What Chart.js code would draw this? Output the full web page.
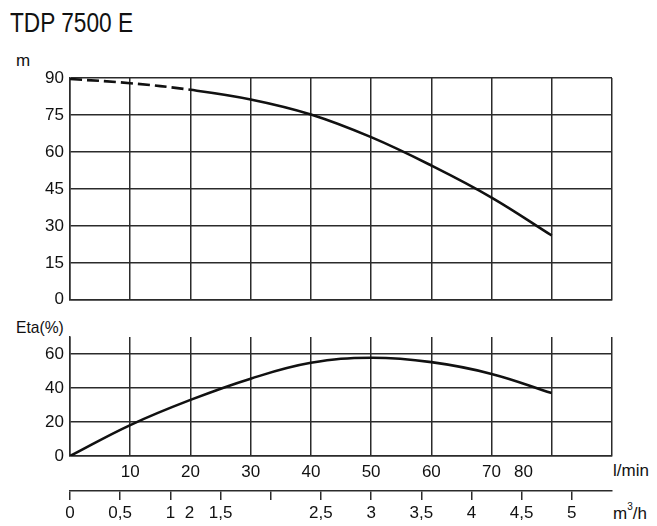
<!DOCTYPE html>
<html>
<head>
<meta charset="utf-8">
<title>TDP 7500 E</title>
<script src="https://cdn.jsdelivr.net/npm/chart.js@4.4.1/dist/chart.umd.min.js"></script>
<style>
  body { margin: 0; background: #fff; }
  #wrap { position: relative; width: 657px; height: 526px; overflow: hidden;
          font-family: "Liberation Sans", Arial, sans-serif; color: #111; }
  canvas { position: absolute; left: 0; }
  .lbl { position: absolute; white-space: nowrap; line-height: 1; transform-origin: left top; }
  .lbl sup { font-size: 10px; position: relative; top: -2px; }
</style>
</head>
<body>
<div id="wrap">
  <div class="lbl" style="left:10px;top:10px;font-size:27px;transform:scaleX(0.84)">TDP 7500 E</div>
  <div class="lbl" style="left:16px;top:52px;font-size:17px">m</div>
  <div class="lbl" style="left:16px;top:319px;font-size:17px;transform:scaleX(0.92)">Eta(%)</div>
  <div class="lbl" style="left:613px;top:462px;font-size:17px">l/min</div>
  <div class="lbl" style="left:613px;top:504px;font-size:17px">m<sup>3</sup>/h</div>
  <canvas id="head" width="657" height="316" style="top:0"></canvas>
  <canvas id="eta" width="657" height="221" style="top:305px"></canvas>
</div>
<script>
// flow in l/min
const flow = [0, 10, 20, 30, 40, 50, 60, 70, 80];
// head in m
const head = [89.6, 87.9, 85.2, 81.3, 75.2, 66.0, 54.5, 41.5, 26.1];
// efficiency in %
const eta = [0, 18.2, 33, 45.5, 54.8, 57.8, 55.2, 48.3, 37];
// head curve is dashed up to this flow
const dashedUpTo = 20;

const headTicks = [0, 15, 30, 45, 60, 75, 90];
const etaLabels = [0, 20, 40, 60];
// l/min labels (the "80" sits left of its grid line in the original)
const flowLabelAt = [10, 20, 30, 40, 50, 60, 70, 75.3];
const flowLabels = ['10', '20', '30', '40', '50', '60', '70', '80'];
// m3/h scale: tick marks and labels
const m3hMarks = [0, 0.5, 1, 1.5, 2, 2.5, 3, 3.5, 4, 4.5, 5];
const m3hLabelAt = [0, 0.5, 1, 1.19, 1.5, 2.5, 3, 3.5, 4, 4.5, 5];
const m3hLabels = ['0', '0,5', '1', '2', '1,5', '2,5', '3', '3,5', '4', '4,5', '5'];

const ink = '#2b2b2b';
const tickFont = { family: 'Liberation Sans', size: 17 };
const grid = { color: ink, lineWidth: 1.5, drawTicks: false };
const border = { color: ink, width: 1.5 };

const base = {
  responsive: false,
  animation: false,
  events: [],
  plugins: { legend: { display: false }, tooltip: { enabled: false } }
};

const gridX = {
  type: 'linear', min: 0, max: 90,
  ticks: { display: false, stepSize: 10 },
  grid: grid, border: border,
  afterFit: s => { s.height = 0; }
};

// top chart: head
new Chart(document.getElementById('head'), {
  type: 'line',
  data: {
    datasets: [{
      data: flow.map((x, i) => ({ x: x, y: head[i] })),
      borderColor: '#111', borderWidth: 2.6, pointRadius: 0, tension: 0.4,
      segment: { borderDash: c => c.p1.parsed.x <= dashedUpTo ? [12, 5] : undefined }
    }]
  },
  options: Object.assign({}, base, {
    layout: { padding: { left: 0, right: 45, top: 78, bottom: 7 } },
    scales: {
      x: gridX,
      y: {
        min: 0, max: 90,
        afterBuildTicks: s => { s.ticks = headTicks.map(v => ({ value: v })); },
        ticks: { font: tickFont, color: '#111', padding: 6 },
        grid: grid, border: border,
        afterFit: s => { s.width = 70; }
      }
    }
  })
});

// bottom chart: efficiency + flow scales
new Chart(document.getElementById('eta'), {
  type: 'line',
  data: {
    datasets: [{
      data: flow.map((x, i) => ({ x: x, y: eta[i] })),
      borderColor: '#111', borderWidth: 2.6, pointRadius: 0, tension: 0.4
    }]
  },
  options: Object.assign({}, base, {
    layout: { padding: { left: 0, right: 45, top: 32, bottom: 0 } },
    scales: {
      x: gridX,
      xl: {
        type: 'linear', position: 'bottom', weight: 1, min: 0, max: 90,
        afterBuildTicks: s => { s.ticks = flowLabelAt.map(v => ({ value: v })); },
        ticks: { font: tickFont, color: '#111', padding: 6, autoSkip: false, maxRotation: 0,
                 callback: (v, i) => flowLabels[i] },
        grid: { display: false, drawTicks: false },
        border: { display: false },
        afterFit: s => { s.height = 35; }
      },
      xm: {
        type: 'linear', position: 'bottom', weight: 2, min: 0, max: 5.4,
        afterBuildTicks: s => {
          const all = Array.from(new Set(m3hMarks.concat(m3hLabelAt))).sort((a, b) => a - b);
          s.ticks = all.map(v => ({ value: v }));
        },
        ticks: { font: tickFont, color: '#111', padding: 3, autoSkip: false, maxRotation: 0,
                 callback: v => { const k = m3hLabelAt.indexOf(v); return k < 0 ? '' : m3hLabels[k]; } },
        grid: {
          drawOnChartArea: false, drawTicks: true, tickLength: 9, lineWidth: 1.5,
          color: c => m3hMarks.includes(c.tick && c.tick.value) ? ink : 'rgba(0,0,0,0)',
          tickColor: c => m3hMarks.includes(c.tick && c.tick.value) ? ink : 'rgba(0,0,0,0)'
        },
        border: border,
        afterFit: s => { s.height = 35; }
      },
      y: {
        min: 0, max: 70,
        ticks: { stepSize: 10, font: tickFont, color: '#111', padding: 6,
                 callback: v => etaLabels.includes(v) ? String(v) : '' },
        grid: grid, border: border,
        afterFit: s => { s.width = 70; }
      }
    }
  })
});
</script>
</body>
</html>
